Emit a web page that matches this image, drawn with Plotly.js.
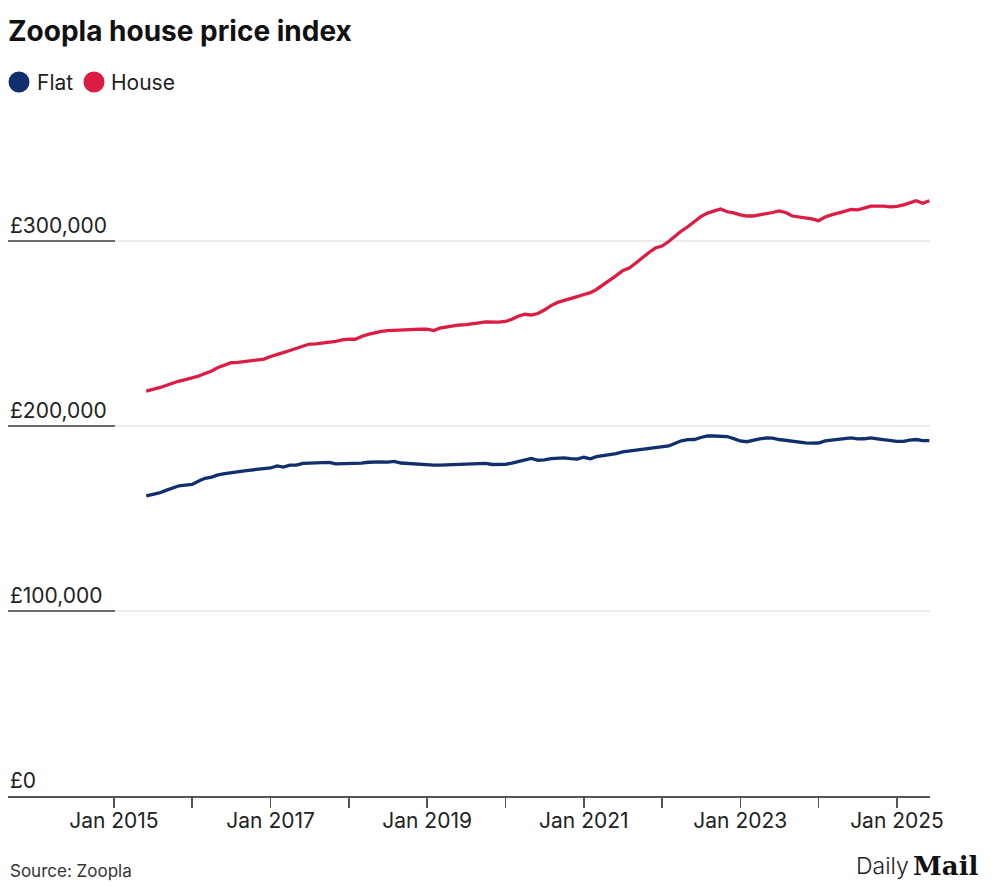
<!DOCTYPE html>
<html>
<head>
<meta charset="utf-8">
<script src="https://cdn.plot.ly/plotly-3.0.1.min.js"></script>
<style>
  html, body { margin: 0; padding: 0; background: #ffffff; }
  #chart { width: 1000px; height: 886px; }
</style>
</head>
<body>
<div id="chart"></div>
<script>
// ---- Data (monthly, Jun 2015 – Jun 2025) ----
const months = [
  "2015-06","2015-07","2015-08","2015-09","2015-10","2015-11","2015-12",
  "2016-01","2016-02","2016-03","2016-04","2016-05","2016-06","2016-07","2016-08","2016-09","2016-10","2016-11","2016-12",
  "2017-01","2017-02","2017-03","2017-04","2017-05","2017-06","2017-07","2017-08","2017-09","2017-10","2017-11","2017-12",
  "2018-01","2018-02","2018-03","2018-04","2018-05","2018-06","2018-07","2018-08","2018-09","2018-10","2018-11","2018-12",
  "2019-01","2019-02","2019-03","2019-04","2019-05","2019-06","2019-07","2019-08","2019-09","2019-10","2019-11","2019-12",
  "2020-01","2020-02","2020-03","2020-04","2020-05","2020-06","2020-07","2020-08","2020-09","2020-10","2020-11","2020-12",
  "2021-01","2021-02","2021-03","2021-04","2021-05","2021-06","2021-07","2021-08","2021-09","2021-10","2021-11","2021-12",
  "2022-01","2022-02","2022-03","2022-04","2022-05","2022-06","2022-07","2022-08","2022-09","2022-10","2022-11","2022-12",
  "2023-01","2023-02","2023-03","2023-04","2023-05","2023-06","2023-07","2023-08","2023-09","2023-10","2023-11","2023-12",
  "2024-01","2024-02","2024-03","2024-04","2024-05","2024-06","2024-07","2024-08","2024-09","2024-10","2024-11","2024-12",
  "2025-01","2025-02","2025-03","2025-04","2025-05","2025-06"
];

const flat = [
  162200,162900,163800,165200,166200,167700,168100,
  168400,170300,171700,172400,173600,174300,174900,175100,175700,176200,176500,176800,
  177300,178400,177800,178800,178900,179800,179900,180000,180200,180300,179500,179500,
  179700,179800,179900,180400,180700,180600,180500,180900,180000,179700,179500,179100,
  178900,178900,178900,179000,179200,179300,179400,179500,179600,179800,179200,179100,
  179300,179900,180800,181900,182500,181500,181700,182400,182600,182800,182400,182100,
  183100,182300,183400,183900,184400,185100,186000,186500,186800,187200,187700,188200,
  188600,189200,190500,192000,192600,192700,193800,194600,194600,194600,194300,193200,
  191900,191500,192300,193000,193500,193400,192700,192200,192100,191500,190900,190700,
  190800,191900,192200,192600,193200,193600,193000,193100,193600,193100,192600,192200,
  191700,191700,192400,192700,192100,192100
];

const house = [
  218900,219700,220700,221900,223200,224300,225100,
  226000,227000,228400,229700,231600,233000,234200,234400,234900,235500,235800,236200,
  237600,238500,239700,240800,242000,243200,244300,244400,244800,245200,245800,246600,
  247000,246900,248400,249500,250400,251100,251600,251800,252100,252400,252400,252400,
  252300,251600,252900,253600,254100,254600,254800,255100,255800,256300,256200,256100,
  256500,257700,259300,260400,260000,260800,262700,265100,266800,267700,268600,269900,
  271100,272100,273800,276200,278700,281300,284000,285400,288100,291100,293800,296200,
  297300,299700,302700,305400,307700,310600,313200,315100,316300,317300,315800,315200,
  314100,313500,313500,314100,314600,315400,316300,315400,313500,313100,312700,311900,
  311000,313000,314100,314900,316000,317100,316800,317800,318800,318900,318900,318400,
  318700,319500,320500,321800,320400,321800
];

const seriesNames = ["Flat", "House"];
const seriesColors = ["#102f6c", "#dc1c42"];

const yTickVals = [0, 100000, 200000, 300000];
const yTickText = ["£0", "£100,000", "£200,000", "£300,000"];

const xTickVals = ["2015-01-01","2016-01-01","2017-01-01","2018-01-01","2019-01-01","2020-01-01",
                   "2021-01-01","2022-01-01","2023-01-01","2024-01-01","2025-01-01"];
const xTickText = ["Jan 2015","","Jan 2017","","Jan 2019","","Jan 2021","","Jan 2023","","Jan 2025"];

// ---- Layout helpers (pixel geometry) ----
const W = 1000, H = 886;
const ML = 8, MR = 70, MT = 167, MB = 90;
const plotW = W - ML - MR, plotH = H - MT - MB;
const px2x = p => (p - ML) / plotW;
const py2y = p => (H - MB - p) / plotH;

const FONT = "Inter, 'Noto Sans', 'DejaVu Sans', sans-serif";

const traces = [
  { x: months, y: flat, type: "scatter", mode: "lines", name: seriesNames[0],
    line: { color: seriesColors[0], width: 3.3 }, showlegend: false },
  { x: months, y: house, type: "scatter", mode: "lines", name: seriesNames[1],
    line: { color: seriesColors[1], width: 3.3 }, showlegend: false }
];

const shapes = [];
const annotations = [];
const gridSplit = px2x(115);

yTickVals.forEach((v, i) => {
  if (v !== 0) {
    shapes.push({ type: "line", xref: "paper", yref: "y", x0: gridSplit, x1: 1, y0: v, y1: v,
                  line: { color: "#e6e6e6", width: 1.5 }, layer: "below" });
    shapes.push({ type: "line", xref: "paper", yref: "y", x0: 0, x1: gridSplit, y0: v, y1: v,
                  line: { color: "#6b6b6b", width: 2 }, layer: "below" });
  }
  annotations.push({ xref: "paper", yref: "y", x: 0, y: v, xanchor: "left", yanchor: "bottom",
                     yshift: 1, text: yTickText[i], showarrow: false,
                     font: { family: FONT, size: 21, color: "#222222" } });
});

// Legend (circles + labels)
const legendItems = [
  { cx: 19, label: seriesNames[0], tx: 35, color: seriesColors[0] },
  { cx: 94, label: seriesNames[1], tx: 109, color: seriesColors[1] }
];
const legendCY = 82, R = 10.5;
legendItems.forEach(it => {
  shapes.push({ type: "circle", xref: "paper", yref: "paper",
                x0: px2x(it.cx - R), x1: px2x(it.cx + R),
                y0: py2y(legendCY + R), y1: py2y(legendCY - R),
                fillcolor: it.color, line: { width: 0 } });
  annotations.push({ xref: "paper", yref: "paper", x: px2x(it.tx), y: py2y(legendCY),
                     xanchor: "left", yanchor: "middle", text: it.label, showarrow: false,
                     font: { family: FONT, size: 21, color: "#222222" } });
});

// Source and logo
annotations.push({ xref: "paper", yref: "paper", x: px2x(8), y: py2y(871), xanchor: "left", yanchor: "middle",
                   text: "Source: Zoopla", showarrow: false,
                   font: { family: FONT, size: 17, color: "#333333" } });
annotations.push({ xref: "paper", yref: "paper", x: px2x(911), y: py2y(866), xanchor: "right", yanchor: "middle",
                   text: "Daily", showarrow: false,
                   font: { family: "Inter, 'Noto Sans', sans-serif", size: 23, color: "#222222", weight: 300 } });
annotations.push({ xref: "paper", yref: "paper", x: px2x(911), y: py2y(866), xanchor: "left", yanchor: "middle",
                   text: "<b>Mail</b>", showarrow: false,
                   font: { family: "'DejaVu Serif', 'Liberation Serif', serif", size: 26, color: "#111111" } });

const layout = {
  width: W, height: H,
  margin: { l: ML, r: MR, t: MT, b: MB, pad: 0 },
  paper_bgcolor: "#ffffff", plot_bgcolor: "#ffffff",
  title: { text: "<b>Zoopla house price index</b>", xref: "container", yref: "container",
           x: 8 / W, xanchor: "left", y: 1 - 31 / H, yanchor: "middle",
           font: { family: FONT, size: 28, color: "#111111" } },
  xaxis: {
    type: "date", range: ["2013-08-25", "2025-06-04"],
    tickvals: xTickVals, ticktext: xTickText,
    ticks: "outside", ticklen: 10, tickwidth: 1.5, tickcolor: "#555555",
    ticklabelstandoff: -5,
    showline: true, linecolor: "#555555", linewidth: 1.5,
    showgrid: false, zeroline: false,
    tickfont: { family: FONT, size: 21, color: "#222222" },
    fixedrange: true
  },
  yaxis: {
    range: [0, 340000], showgrid: false, zeroline: false, showline: false,
    showticklabels: false, ticks: "", fixedrange: true
  },
  showlegend: false,
  shapes: shapes,
  annotations: annotations,
  hovermode: false
};

Plotly.newPlot("chart", traces, layout, { displayModeBar: false, staticPlot: true });
</script>
</body>
</html>
